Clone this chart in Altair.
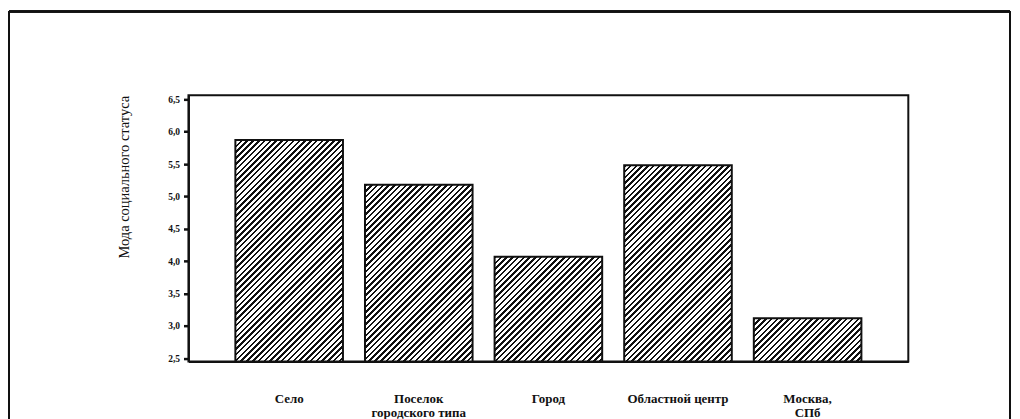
import altair as alt
import pandas as pd

# ---- data ----
categories = ["Село", "Поселок\nгородского типа", "Город", "Областной центр", "Москва,\nСПб"]
values = [5.87, 5.18, 4.07, 5.48, 3.12]
y_ticks = [2.5, 3.0, 3.5, 4.0, 4.5, 5.0, 5.5, 6.0, 6.5]
y_title = "Мода социального статуса"

# ---- layout / style ----
W, H = 722, 267
Y_DOMAIN = [2.45, 6.56]
P_INNER, P_OUTER = 0.17, 0.362
FONT = "Liberation Serif"
INK = "#111111"

df = pd.DataFrame({"cat": categories, "val": values})

step = W / (len(categories) - P_INNER + 2 * P_OUTER)
band_w = step * (1 - P_INNER)


def hatch(w, h, period=5.8, duty=0.43):
    """Diagonal '///' hatch as a hard-stop linear gradient for a w x h box."""
    k = (w + h) / (w * w + h * h)
    n = (w + h) / period
    stops = [alt.GradientStop(color="white", offset=0)]
    i = 0
    while i < n:
        s = min(i / n, 1.0)
        e = min((i + duty) / n, 1.0)
        stops += [
            alt.GradientStop(color="white", offset=s),
            alt.GradientStop(color=INK, offset=s),
            alt.GradientStop(color=INK, offset=e),
            alt.GradientStop(color="white", offset=e),
        ]
        i += 1
    stops.append(alt.GradientStop(color="white", offset=1))
    return alt.LinearGradient(gradient="linear", stops=stops, x1=0, y1=0, x2=k * w, y2=k * h)


x_scale = alt.Scale(domain=categories, paddingInner=P_INNER, paddingOuter=P_OUTER)
y_scale = alt.Scale(domain=Y_DOMAIN, zero=False, nice=False)

x_axis = alt.Axis(
    title=None, ticks=False, domainWidth=2, domainColor=INK,
    labelAngle=0, labelFont=FONT, labelFontSize=13, labelFontWeight="bold",
    labelColor=INK, labelPadding=31, labelLineHeight=14,
    labelExpr="split(datum.label, '\\n')",
)
y_axis = alt.Axis(
    title=y_title, titleFont=FONT, titleFontSize=14.5, titleFontWeight="normal",
    titleColor=INK, titleAnchor="end", titlePadding=36,
    values=y_ticks, tickSize=5, tickWidth=2.5, tickColor=INK,
    domainWidth=2, domainColor=INK, grid=False,
    labelFont=FONT, labelFontSize=9.5, labelFontWeight="bold", labelColor=INK,
    labelPadding=4, labelExpr="replace(format(datum.value, '.1f'), '.', ',')",
)

layers = []
for c, v in zip(categories, values):
    h = (v - Y_DOMAIN[0]) * H / (Y_DOMAIN[1] - Y_DOMAIN[0])
    layers.append(
        alt.Chart(df)
        .transform_filter(alt.datum.cat == c)
        .mark_bar(fill=hatch(band_w, h), stroke=INK, strokeWidth=2)
        .encode(
            x=alt.X("cat:N", scale=x_scale, sort=None, axis=x_axis),
            y=alt.Y("val:Q", scale=y_scale, axis=y_axis),
            y2=alt.datum(Y_DOMAIN[0]),
        )
    )

# page frame (scanned figure border)
frame_left = alt.Chart(df).mark_rule(color=INK, strokeWidth=2).encode(
    x=alt.value(-180), y=alt.value(-84), y2=alt.value(H + 70))
frame_top = alt.Chart(df).mark_rule(color=INK, strokeWidth=2).encode(
    x=alt.value(-180), x2=alt.value(824), y=alt.value(-84))
frame_right = alt.Chart(df).mark_rule(color=INK, strokeWidth=2).encode(
    x=alt.value(824), y=alt.value(-84), y2=alt.value(H + 70))

chart = (
    alt.layer(*layers, frame_left, frame_top, frame_right)
    .properties(
        width=W, height=H,
        autosize=alt.AutoSizeParams(type="none"),
        padding={"left": 181, "top": 87, "right": 104, "bottom": 62},
        background="white",
    )
    .configure_view(stroke=INK, strokeWidth=2)
)

chart.save("out.html", embed_options={"renderer": "svg", "actions": False})
